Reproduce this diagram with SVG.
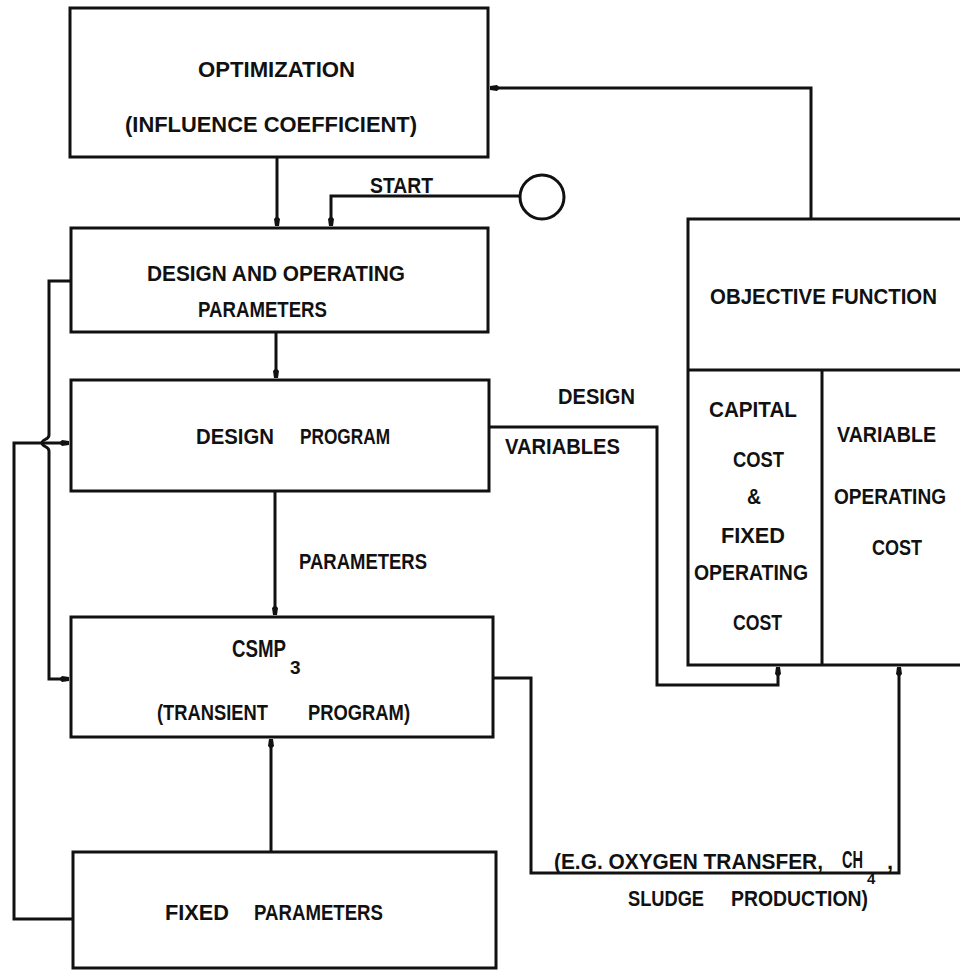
<svg xmlns="http://www.w3.org/2000/svg" width="960" height="974" viewBox="0 0 960 974">
<style>
.box{fill:none;stroke:#111;stroke-width:3}
.ln{fill:none;stroke:#111;stroke-width:3;stroke-linejoin:miter}
.t{font-family:"Liberation Sans",Arial,sans-serif;font-weight:bold;font-size:22px;fill:#111}
.s{font-family:"Liberation Sans",Arial,sans-serif;font-weight:bold;font-size:15px;fill:#111}
</style>
<defs>
<marker id="ah" markerUnits="userSpaceOnUse" markerWidth="12" markerHeight="10" refX="10" refY="5" orient="auto">
<path d="M0,5 L3,2 L10,3 L10,7 L3,8 Z" fill="#111"/>
</marker>
</defs>
<rect width="960" height="974" fill="#fff"/>

<g id="connectors">
<path class="ln" d="M277,157 V226" marker-end="url(#ah)"/>
<path class="ln" d="M520,196 H331 V226" marker-end="url(#ah)"/>
<path class="ln" d="M811,219 V88 H490" marker-end="url(#ah)"/>
<path class="ln" d="M276,332 V378" marker-end="url(#ah)"/>
<path class="ln" d="M275,491 V615" marker-end="url(#ah)"/>
<path class="ln" d="M271,852 V739" marker-end="url(#ah)"/>
<path class="ln" d="M71,281 H49 V435 C49,440 42,439 42,443 C42,447 49,446 49,451 V679 H69" marker-end="url(#ah)"/>
<path class="ln" d="M73,919 H14 V443 H69" marker-end="url(#ah)"/>
<path class="ln" d="M489,427 H657 V685 H778 V667" marker-end="url(#ah)"/>
<path class="ln" d="M493,678 H531 V873 H899 V667" marker-end="url(#ah)"/>
</g>

<g id="optimization">
<rect class="box" x="70" y="8" width="418" height="149"/>
<text class="t" x="198" y="77" textLength="157" lengthAdjust="spacingAndGlyphs">OPTIMIZATION</text>
<text class="t" x="125" y="132" textLength="292" lengthAdjust="spacingAndGlyphs">(INFLUENCE COEFFICIENT)</text>
</g>

<g id="start">
<circle cx="542" cy="197" r="22" fill="none" stroke="#111" stroke-width="3"/>
<text class="t" x="370" y="193" textLength="63" lengthAdjust="spacingAndGlyphs">START</text>
</g>

<g id="design-operating-parameters">
<rect class="box" x="71" y="228" width="417" height="104"/>
<text class="t" x="147" y="281" textLength="258" lengthAdjust="spacingAndGlyphs">DESIGN AND OPERATING</text>
<text class="t" x="198" y="317" textLength="129" lengthAdjust="spacingAndGlyphs">PARAMETERS</text>
</g>

<g id="design-program">
<rect class="box" x="71" y="380" width="418" height="111"/>
<text class="t" x="196" y="444" textLength="78" lengthAdjust="spacingAndGlyphs">DESIGN</text>
<text class="t" x="300" y="444" textLength="90" lengthAdjust="spacingAndGlyphs">PROGRAM</text>
</g>

<g id="labels">
<text class="t" x="299" y="569" textLength="128" lengthAdjust="spacingAndGlyphs">PARAMETERS</text>
<text class="t" x="558" y="404" textLength="77" lengthAdjust="spacingAndGlyphs">DESIGN</text>
<text class="t" x="505" y="454" textLength="115" lengthAdjust="spacingAndGlyphs">VARIABLES</text>
<text class="t" x="554" y="869" textLength="269" lengthAdjust="spacingAndGlyphs">(E.G. OXYGEN TRANSFER,</text>
<text class="t" x="842" y="868" textLength="21" lengthAdjust="spacingAndGlyphs" style="font-size:24px">CH</text>
<text class="s" x="867" y="884">4</text>
<text class="t" x="887" y="869">,</text>
<text class="t" x="628" y="906" textLength="76" lengthAdjust="spacingAndGlyphs">SLUDGE</text>
<text class="t" x="731" y="906" textLength="137" lengthAdjust="spacingAndGlyphs">PRODUCTION)</text>
</g>

<g id="csmp3">
<rect class="box" x="71" y="617" width="422" height="120"/>
<text class="t" x="232" y="657" textLength="54" lengthAdjust="spacingAndGlyphs" style="font-size:24px">CSMP</text>
<text class="s" x="290" y="674" style="font-size:19px">3</text>
<text class="t" x="157" y="720" textLength="111" lengthAdjust="spacingAndGlyphs">(TRANSIENT</text>
<text class="t" x="308" y="720" textLength="102" lengthAdjust="spacingAndGlyphs">PROGRAM)</text>
</g>

<g id="fixed-parameters">
<rect class="box" x="73" y="852" width="423" height="116"/>
<text class="t" x="165" y="920" textLength="64" lengthAdjust="spacingAndGlyphs">FIXED</text>
<text class="t" x="254" y="920" textLength="129" lengthAdjust="spacingAndGlyphs">PARAMETERS</text>
</g>

<g id="objective-function">
<rect class="box" x="688" y="219" width="280" height="446"/>
<line class="ln" x1="688" y1="370" x2="968" y2="370"/>
<line class="ln" x1="822" y1="370" x2="822" y2="665"/>
<text class="t" x="710" y="304" textLength="227" lengthAdjust="spacingAndGlyphs">OBJECTIVE FUNCTION</text>
<text class="t" x="709" y="417" textLength="88" lengthAdjust="spacingAndGlyphs">CAPITAL</text>
<text class="t" x="733" y="467" textLength="51" lengthAdjust="spacingAndGlyphs">COST</text>
<text class="t" x="747" y="504" textLength="14" lengthAdjust="spacingAndGlyphs">&amp;</text>
<text class="t" x="721" y="543" textLength="64" lengthAdjust="spacingAndGlyphs">FIXED</text>
<text class="t" x="694" y="580" textLength="114" lengthAdjust="spacingAndGlyphs">OPERATING</text>
<text class="t" x="733" y="630" textLength="49" lengthAdjust="spacingAndGlyphs">COST</text>
<text class="t" x="837" y="442" textLength="99" lengthAdjust="spacingAndGlyphs">VARIABLE</text>
<text class="t" x="834" y="504" textLength="112" lengthAdjust="spacingAndGlyphs">OPERATING</text>
<text class="t" x="872" y="555" textLength="50" lengthAdjust="spacingAndGlyphs">COST</text>
</g>
</svg>
